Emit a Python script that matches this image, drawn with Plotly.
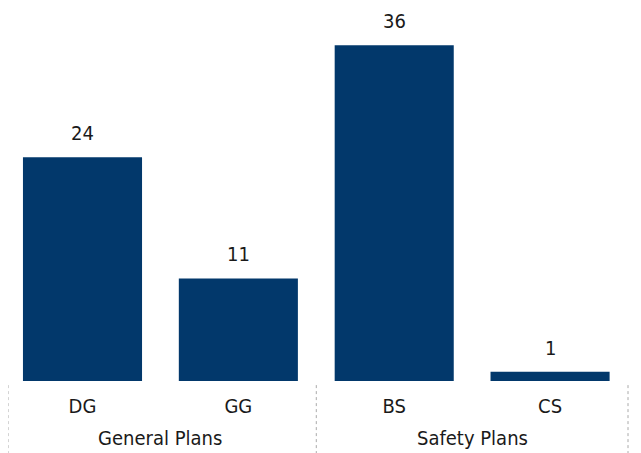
import plotly.graph_objects as go

groups = ["General Plans", "Safety Plans"]
group_of = ["General Plans", "General Plans", "Safety Plans", "Safety Plans"]
categories = ["DG", "GG", "BS", "CS"]
values = [24, 11, 36, 1]

BAR_COLOR = "#02386B"
TEXT_COLOR = "#1a1a1a"
FONT = "DejaVu Sans Condensed, sans-serif"

X_RANGE = [-0.478, 3.5]

fig = go.Figure()
fig.add_trace(go.Bar(
    x=categories,
    y=values,
    marker=dict(color=BAR_COLOR, line=dict(width=0)),
    cliponaxis=False,
))

# value labels above bars
for cat, v in zip(categories, values):
    fig.add_annotation(x=cat, y=v, xref="x", yref="y", text=str(v),
                       showarrow=False, yanchor="bottom", yshift=10,
                       font=dict(size=20, color=TEXT_COLOR, family=FONT))

# group labels centred under their categories
for g in groups:
    idx = [i for i, gg in enumerate(group_of) if gg == g]
    xc = (idx[0] + idx[-1]) / 2
    fig.add_annotation(x=xc, y=-0.153, xref="x", yref="paper", text=g,
                       showarrow=False, yanchor="middle",
                       font=dict(size=20, color=TEXT_COLOR, family=FONT))

# dotted group separators (at group boundaries)
span = X_RANGE[1] - X_RANGE[0]
bounds = [X_RANGE[0], 1.5, 3.5]
for b in bounds:
    xp = (b - X_RANGE[0]) / span
    fig.add_shape(type="line", xref="paper", yref="paper",
                  x0=xp, x1=xp, y0=-0.011, y1=-0.193,
                  line=dict(color="#aaaaaa", width=1, dash="dot"))

fig.update_layout(
    width=633, height=445,
    margin=dict(l=0, r=13, t=0, b=72),
    paper_bgcolor="white", plot_bgcolor="white",
    bargap=0.236,
    showlegend=False,
    font=dict(family=FONT, size=20, color=TEXT_COLOR),
    xaxis=dict(type="category", showgrid=False, showline=False, zeroline=False,
               ticks="outside", ticklen=7, tickcolor="rgba(0,0,0,0)",
               automargin=False,
               tickfont=dict(size=20, color=TEXT_COLOR, family=FONT),
               range=X_RANGE),
    yaxis=dict(visible=False, range=[0, 40], showgrid=False, zeroline=False,
               automargin=False),
)

fig.write_html("out.html")
